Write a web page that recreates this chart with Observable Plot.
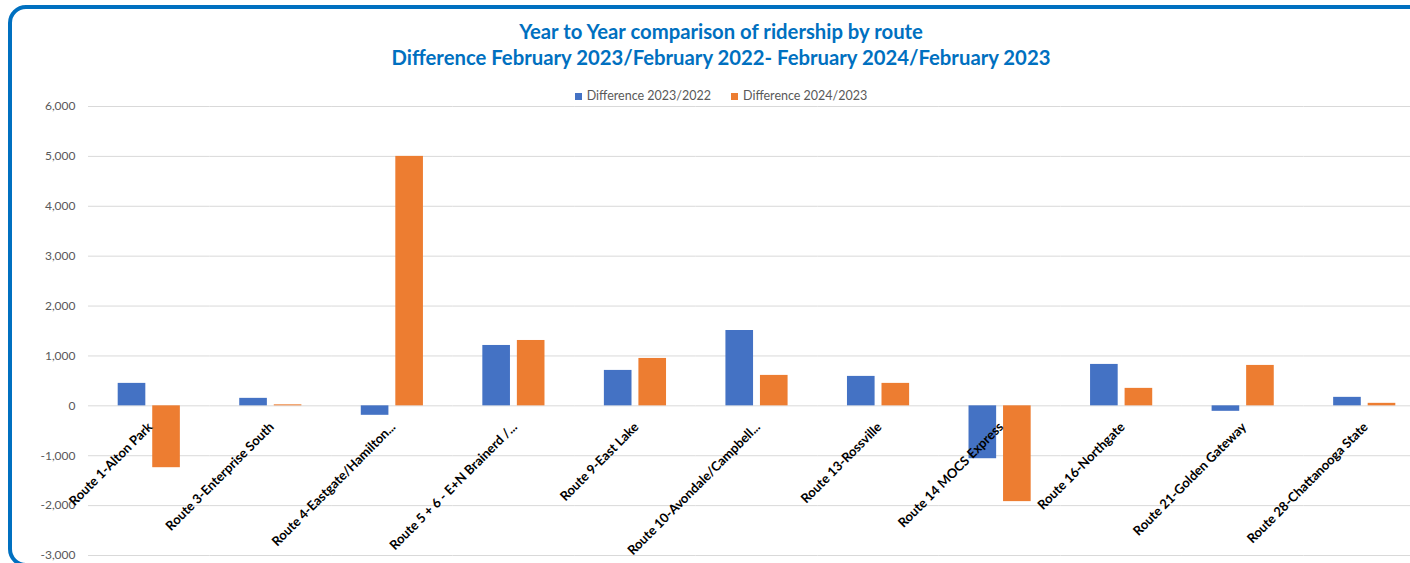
<!DOCTYPE html>
<html><head><meta charset="utf-8">
<script src="https://cdn.jsdelivr.net/npm/d3@7"></script>
<script src="https://cdn.jsdelivr.net/npm/@observablehq/plot@0.6"></script>
<style>
html,body{margin:0;padding:0;}
body{width:1410px;height:563px;overflow:hidden;background:#fff;font-family:Lato,sans-serif;position:relative}
#frame{position:absolute;left:8px;top:5px;width:1440px;border:4px solid #0070C0;border-radius:18px;box-sizing:border-box;height:562px;}
#title{position:absolute;left:0;width:1442px;top:18px;text-align:center;color:#0070C0;font-weight:bold;font-size:20.3px;line-height:26px}
#legend{position:absolute;left:0;width:1442px;top:87px;height:16px;display:flex;justify-content:center;align-items:center;font-size:12.5px;color:#595959;gap:20px}
#legend span.sw{display:inline-block;width:7px;height:7px;margin-right:5px;vertical-align:middle}
#chart{position:absolute;left:0;top:100px}
</style>
</head><body>
<div id="frame"></div>
<div id="title"></div>
<div id="legend"></div>
<div id="chart"></div>
<script>
const titleLines = ["Year to Year comparison of ridership by route", "Difference February 2023/February 2022- February 2024/February 2023"];
const routes = ["Route 1-Alton Park","Route 3-Enterprise South","Route 4-Eastgate/Hamilton...","Route 5 + 6 - E+N Brainerd /...","Route 9-East Lake","Route 10-Avondale/Campbell...","Route 13-Rossville","Route 14 MOCS Express","Route 16-Northgate","Route 21-Golden Gateway","Route 28-Chattanooga State"];
const series = ["Difference 2023/2022","Difference 2024/2023"];
const diff2023 = [450,150,-190,1210,710,1510,590,-1060,830,-110,170];
const diff2024 = [-1240,20,5000,1310,950,610,450,-1920,350,810,50];
const yTicks = [-3000,-2000,-1000,0,1000,2000,3000,4000,5000,6000];
const colors = ["#4472C4","#ED7D31"];

document.getElementById("title").innerHTML = titleLines.map(t=>`<div>${t}</div>`).join("");
document.getElementById("legend").innerHTML = series.map((s,i)=>`<div><span class="sw" style="background:${colors[i]}"></span>${s}</div>`).join("");

const rows = routes.flatMap((r,i)=>[
  {route:r, series:series[0], value:diff2023[i]},
  {route:r, series:series[1], value:diff2024[i]}
]);
const fmt = d3.format(",");
const tickFmt = d => fmt(d).replace("\u2212","-");

const chart = Plot.plot({
  width:1430, height:463,
  marginLeft:88, marginRight:5, marginTop:6, marginBottom:8,
  style:{fontFamily:"Lato, sans-serif", fontSize:"12px", background:"transparent", maxWidth:"none", overflow:"visible"},
  fx:{domain:routes, padding:0, round:false, axis:null},
  x:{domain:series, paddingInner:0.2, paddingOuter:0.86, round:false, axis:null},
  y:{domain:[-3000,6000], label:null},
  color:{domain:series, range:colors},
  marks:[
    Plot.gridY(yTicks,{stroke:"#d9d9d9", strokeOpacity:1}),
    Plot.axisY(yTicks,{tickSize:0, tickPadding:13, fill:"#595959", fontSize:12, tickFormat:tickFmt, label:null}),
    Plot.barY(rows,{fx:"route", x:"series", y:"value", fill:"series"}),
    Plot.text(routes,{fx:d=>d, y:d=>0, text:d=>d, rotate:-45, textAnchor:"end", dx:1, dy:19, fontWeight:"bold", fontSize:13, fill:"#000"})
  ]
});
document.getElementById("chart").appendChild(chart);
</script>
</body></html>
